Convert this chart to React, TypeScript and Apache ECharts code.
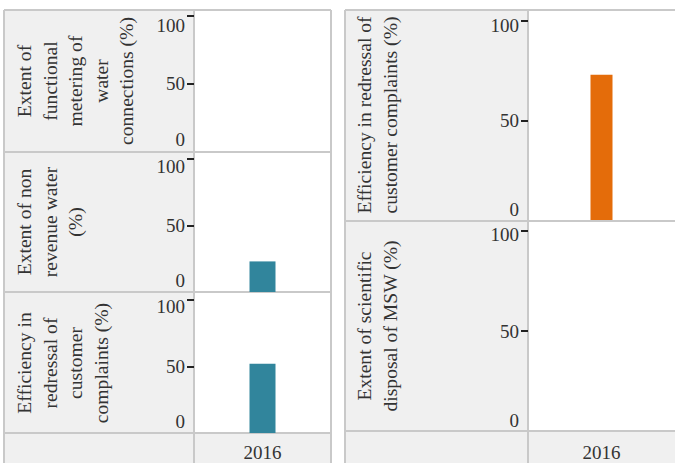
import React, { useEffect, useRef } from "react";
import * as echarts from "echarts";

// ---- data ----
const categories = ["2016"];
const yTicks = [0, 50, 100];
const meteringValues: (number | null)[] = [null];
const nonRevenueWaterValues: (number | null)[] = [23];
const redressalLeftValues: (number | null)[] = [52];
const redressalRightValues: (number | null)[] = [73];
const mswDisposalValues: (number | null)[] = [null];

const titles = [
  "Extent of\nfunctional\nmetering of\nwater\nconnections (%)",
  "Extent of non\nrevenue water\n(%)",
  "Efficiency in\nredressal of\ncustomer\ncomplaints (%)",
  "Efficiency in redressal of\ncustomer complaints (%)",
  "Extent of scientific\ndisposal of MSW (%)",
];
const seriesValues = [
  meteringValues,
  nonRevenueWaterValues,
  redressalLeftValues,
  redressalRightValues,
  mswDisposalValues,
];

const TEAL = "#31859c";
const ORANGE = "#e46c0a";
const colors = [TEAL, TEAL, TEAL, ORANGE, ORANGE];

const FONT = "'Liberation Serif', 'DejaVu Serif', serif";
const TXT = "#333333";
const GREY = "#f0f0f0";
const BORDER = "#c9c9c9";

// layout (pixels)
const grids = [
  { left: 194, width: 137, top: 16, height: 135 },
  { left: 194, width: 137, top: 159, height: 133 },
  { left: 194, width: 137, top: 300, height: 133 },
  { left: 528, width: 154, top: 21, height: 199 },
  { left: 528, width: 154, top: 231, height: 200 },
];
const barWidths = [26, 26, 26, 22, 22];
const titlePos = [
  { x: 12, y: 81 },
  { x: 12, y: 222 },
  { x: 12, y: 363 },
  { x: 352, y: 115 },
  { x: 352, y: 326 },
];
const showX = [false, false, true, false, true];
const xMargins = [10, 10, 10, 12, 12];
// downward shift of the top label (px) and upward shift of the bottom label
const maxShift = [9, 7, 6, 4, 3];
const minShift = [12, 12, 12, 11, 11];

export default function App() {
  const ref = useRef<HTMLDivElement>(null);
  useEffect(() => {
    if (!ref.current) return;
    const chart = echarts.init(ref.current, null, { renderer: "svg" });

    const line = (x1: number, y1: number, x2: number, y2: number) => ({
      type: "line",
      shape: { x1, y1, x2, y2 },
      style: { stroke: BORDER, lineWidth: 2 },
      z: -5,
      silent: true,
    });
    const rect = (x: number, y: number, width: number, height: number, fill: string) => ({
      type: "rect",
      shape: { x, y, width, height },
      style: { fill },
      z: -10,
      silent: true,
    });

    const graphic: any[] = [
      // left panel
      rect(4, 10, 327, 460, "#ffffff"),
      rect(4, 10, 190, 460, GREY),
      rect(194, 433, 137, 40, GREY),
      line(4, 10, 331, 10),
      line(4, 10, 4, 470),
      line(331, 10, 331, 470),
      line(4, 152, 331, 152),
      line(4, 292, 331, 292),
      line(4, 433, 331, 433),
      line(194, 10, 194, 470),
      // right panel
      rect(345, 10, 345, 460, "#ffffff"),
      rect(345, 10, 183, 460, GREY),
      rect(528, 431, 160, 40, GREY),
      line(345, 10, 690, 10),
      line(345, 10, 345, 470),
      line(345, 221, 690, 221),
      line(345, 431, 690, 431),
      line(528, 10, 528, 470),
    ];
    titles.forEach((t, i) => {
      graphic.push({
        type: "text",
        x: titlePos[i].x,
        y: titlePos[i].y,
        rotation: Math.PI / 2,
        silent: true,
        z: 5,
        style: {
          text: t,
          align: "center",
          verticalAlign: "top",
          fontFamily: FONT,
          fontSize: 19.6,
          lineHeight: 25.5,
          fill: TXT,
        },
      });
    });

    const yMin = yTicks[0];
    const yMax = yTicks[yTicks.length - 1];

    const option: any = {
      animation: false,
      graphic,
      grid: grids.map((g) => ({ ...g, containLabel: false })),
      xAxis: grids.map((_, i) => ({
        type: "category",
        gridIndex: i,
        data: categories,
        axisLine: { show: false },
        axisTick: { show: false },
        axisLabel: {
          show: showX[i],
          margin: xMargins[i],
          fontFamily: FONT,
          fontSize: 19,
          color: TXT,
        },
        splitLine: { show: false },
      })),
      yAxis: grids.map((_, i) => ({
        type: "value",
        gridIndex: i,
        min: yMin,
        max: yMax,
        interval: yTicks[1] - yTicks[0],
        axisLine: { show: false },
        axisTick: {
          show: true,
          length: 7,
          lineStyle: { color: "#222", width: 2 },
          customValues: yTicks.slice(1),
        },
        axisLabel: {
          margin: 9,
          fontFamily: FONT,
          fontSize: 19,
          color: TXT,
          verticalAlign: "middle",
          formatter: (v: number) =>
            v === yMax ? `{mx|${v}}` : v === yMin ? `{mn|${v}}` : `{md|${v}}`,
          rich: {
            mx: {
              fontFamily: FONT,
              fontSize: 19,
              color: TXT,
              padding: [maxShift[i] * 2, 0, 0, 0],
            },
            mn: {
              fontFamily: FONT,
              fontSize: 19,
              color: TXT,
              padding: [0, 0, minShift[i] * 2, 0],
            },
            md: { fontFamily: FONT, fontSize: 19, color: TXT },
          },
        },
        splitLine: { show: false },
      })),
      series: seriesValues.map((vals, i) => ({
        type: "bar",
        xAxisIndex: i,
        yAxisIndex: i,
        data: vals,
        barWidth: barWidths[i],
        itemStyle: { color: colors[i] },
        silent: true,
      })),
    };
    chart.setOption(option);
    return () => chart.dispose();
  }, []);
  return (
    <div
      ref={ref}
      style={{ position: "absolute", left: 0, top: 0, width: 675, height: 463, background: "#fff" }}
    />
  );
}
